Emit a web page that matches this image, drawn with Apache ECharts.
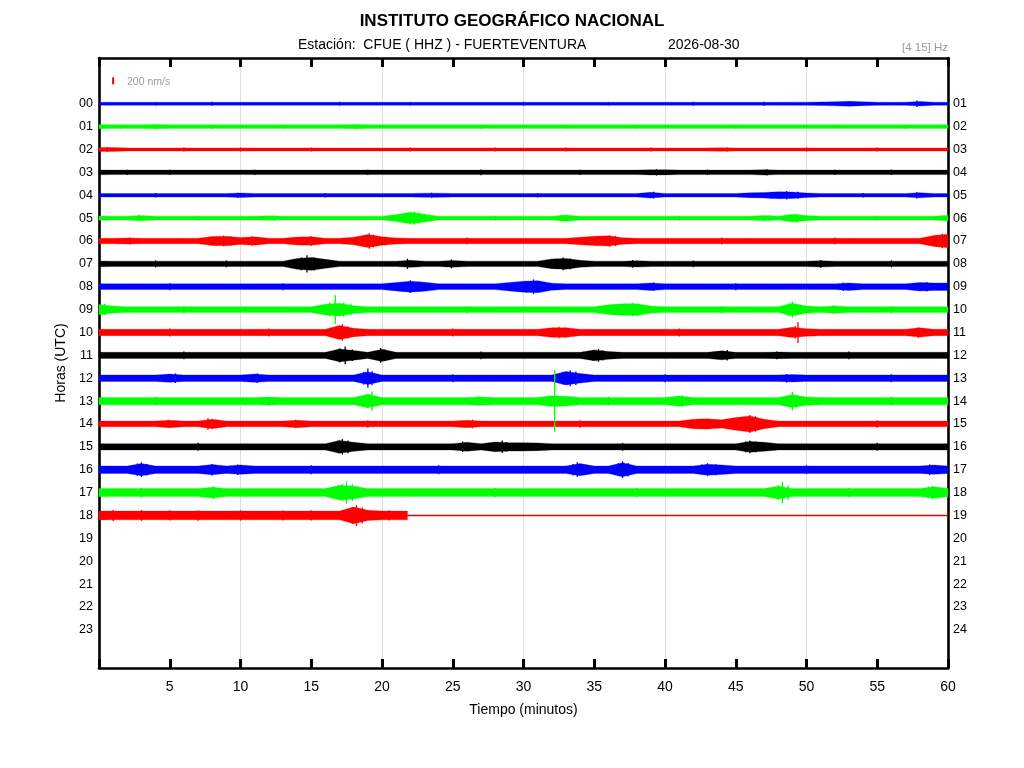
<!DOCTYPE html>
<html>
<head>
<meta charset="utf-8">
<script src="https://cdn.jsdelivr.net/npm/echarts@6/dist/echarts.min.js"></script>
<style>
html,body{margin:0;padding:0;background:#fff;}
#chart{width:1024px;height:768px;}
</style>
</head>
<body>
<div id="chart"></div>
<script>
// ---- Data (amplitude envelopes, nm/s, one value per minute 0..60) ----
const HOURS_LEFT = ['00','01','02','03','04','05','06','07','08','09','10','11','12','13','14','15','16','17','18','19','20','21','22','23'];
const HOURS_RIGHT = ['01','02','03','04','05','06','07','08','09','10','11','12','13','14','15','16','17','18','19','20','21','22','23','24'];
const X_TICKS = [5,10,15,20,25,30,35,40,45,50,55,60];

const r00 = [50,45,45,45,45,45,45,45,45,45, 45,45,45,45,45,45,45,45,45,45, 45,45,45,45,45,45,45,45,45,45, 45,45,45,45,45,45,45,45,45,45, 45,45,45,45,45,45,45,45,45,50, 50,55,65,75,60,50,45,50,70,50, 45];
const r01 = [65,55,55,55,65,55,55,55,55,55, 55,55,55,55,55,55,55,55,65,55, 55,55,55,55,55,55,55,55,55,55, 55,55,55,55,55,55,55,55,55,55, 55,55,55,55,55,55,55,55,55,55, 55,55,55,55,55,55,55,55,55,55, 60];
const r02 = [65,60,50,50,50,50,50,50,50,50, 50,50,50,50,50,50,50,50,50,50, 50,50,50,50,50,50,50,50,50,50, 50,50,50,50,50,50,50,50,50,50, 50,50,50,50,55,50,50,50,50,50, 50,50,50,50,50,50,50,50,50,50, 50];
const r03 = [75,70,70,70,70,70,70,70,70,70, 70,70,70,70,70,70,70,70,70,70, 70,70,70,70,70,70,70,70,70,70, 70,70,70,70,70,70,70,70,70,80, 80,70,70,70,70,70,70,85,70,70, 70,70,70,70,70,70,70,70,70,70, 70];
const r04 = [55,55,55,55,55,55,55,55,55,55, 70,55,55,55,55,55,55,55,55,55, 55,55,55,65,65,55,55,55,55,55, 55,55,55,55,55,55,55,55,55,90, 55,55,55,55,55,55,75,85,110,100, 70,55,55,55,55,55,55,55,80,55, 55];
const r05 = [65,60,60,80,60,60,60,60,60,60, 60,60,70,60,60,60,60,60,60,60, 60,110,180,120,60,60,60,60,60,60, 60,60,60,95,60,60,60,60,60,60, 60,60,60,60,60,60,60,85,60,120, 80,60,60,60,60,60,60,60,60,60, 90];
const r06 = [85,85,95,85,85,85,85,85,140,150, 110,130,85,85,125,130,85,85,120,200, 130,95,85,85,85,85,85,85,85,85, 85,85,85,85,120,145,160,100,85,85, 85,85,85,85,85,85,85,85,85,85, 85,85,85,85,85,85,85,85,85,170, 210];
const r07 = [90,85,85,85,85,85,85,85,85,85, 85,85,85,85,170,200,140,85,85,85, 85,85,110,85,85,105,85,85,85,85, 85,85,150,170,110,85,85,85,100,85, 85,85,85,85,85,85,85,85,85,85, 85,100,85,85,85,85,85,85,85,85, 85];
const r08 = [90,90,90,90,90,90,90,90,90,90, 90,90,90,90,90,90,90,90,90,90, 90,130,170,140,90,90,90,90,90,130, 170,190,110,90,90,90,90,90,90,115, 90,90,90,90,90,90,90,90,90,90, 90,90,90,115,90,90,90,90,130,115, 120];
const r09 = [160,110,90,90,90,90,90,90,90,90, 90,90,90,90,90,90,170,200,120,90, 90,90,90,90,90,90,90,90,90,90, 90,90,90,90,90,90,150,180,185,110, 90,90,90,90,90,90,90,90,90,200, 110,90,115,90,90,90,90,90,90,90, 90];
const r10 = [100,100,100,100,100,100,100,100,100,100, 100,100,100,100,100,100,100,220,130,100, 100,100,100,100,100,100,100,100,100,100, 100,100,150,150,100,100,100,100,100,100, 100,100,100,100,100,100,100,100,100,160, 120,100,100,100,100,100,100,100,145,100, 100];
const r11 = [95,95,95,95,95,95,95,95,95,95, 95,95,95,95,95,95,95,200,150,95, 190,95,95,95,95,95,95,95,95,95, 95,95,95,95,95,170,120,95,95,95, 95,95,95,95,140,95,95,95,105,95, 95,95,95,95,95,95,95,95,95,95, 95];
const r12 = [100,100,100,100,100,130,100,100,100,100, 100,130,100,100,100,100,100,100,100,200, 100,100,100,100,100,100,100,100,100,100, 100,100,100,210,150,100,100,100,100,100, 100,100,100,100,100,100,100,100,100,115, 100,100,100,100,100,100,100,100,100,100, 100];
const r13 = [115,115,115,115,115,115,115,115,115,115, 115,115,125,115,115,115,115,115,115,210, 115,115,115,115,115,115,115,130,115,115, 115,115,170,150,115,115,115,115,115,115, 115,160,115,115,115,115,115,115,115,200, 130,115,115,115,115,115,115,115,115,115, 115];
const r14 = [90,90,90,90,90,115,90,90,150,90, 90,90,90,90,115,90,90,90,90,90, 90,90,90,90,90,90,115,90,90,90, 90,90,90,90,90,90,90,90,90,90, 90,90,150,160,130,200,250,150,90,90, 90,90,90,90,90,90,90,90,90,90, 90];
const r15 = [100,100,100,100,100,100,100,100,100,100, 100,100,100,100,100,100,100,200,140,100, 100,100,100,100,100,100,140,100,150,130, 130,120,100,100,100,100,100,100,100,100, 100,100,100,100,100,100,170,140,100,100, 100,100,100,100,100,100,100,100,100,100, 100];
const r16 = [115,115,115,190,115,115,115,115,160,115, 145,115,115,115,115,115,115,115,115,115, 115,115,115,115,115,115,115,115,115,115, 115,115,115,115,190,115,115,220,115,115, 115,115,115,170,150,115,115,115,115,115, 115,115,115,115,115,115,115,115,115,145, 115];
const r17 = [130,125,125,125,125,125,125,125,170,125, 125,125,125,125,125,125,125,230,200,125, 125,125,125,125,125,125,125,125,125,125, 125,125,125,125,125,125,125,125,125,125, 125,125,125,125,125,125,125,125,200,125, 125,125,125,125,125,125,125,125,125,180, 130];
const r18 = [140,135,135,135,135,135,135,135,135,135, 135,135,135,135,135,135,135,135,260,160, 135,135];
const LIVE_END = 21.8;   // minute where the live trace of the last hour stops

const TRACES = [r00,r01,r02,r03,r04,r05,r06,r07,r08,r09,r10,r11,r12,r13,r14,r15,r16,r17,r18];

// sharp peaks per hour: [minute, amplitude nm/s]
const SPIKES = [
  [[53.1,75],[57.8,100],[8,60],[17,60],[30,60],[42,60],[4,55],[22,55],[36,55],[47,60]],
  [[4.1,75],[18.2,80],[13,70],[27,70],[38,70],[52,70],[1.5,70],[8,65],[33,65],[45,65],[57,65]],
  [[0.6,80],[44.4,65],[10,65],[22,65],[33,65],[50,65],[6,60],[15,62],[28,60],[39,62],[55,62]],
  [[39.4,100],[47.2,100],[5,85],[19,85],[27,90],[56,85],[2,85],[11,85],[34,85],[43,85],[52,85]],
  [[9.8,80],[23.5,80],[39.2,105],[48.6,135],[57.8,100],[47.5,100],[49.4,110],[4,70],[16,70],[31,70],[54,70]],
  [[2.8,95],[12.4,85],[22.3,210],[32.7,110],[47.4,100],[49.3,140],[21.5,130],[22.0,170],[22.6,180],[23.0,120],[7,75],[28,75],[41,75],[55,75]],
  [[8.8,165],[10.8,150],[15,150],[19.1,240],[20.2,135],[36.1,180],[59.6,230],[8.3,140],[9.3,150],[14.4,130],[18.8,190],[19.4,200],[35.2,150],[36.5,160],[59.2,180],[2.2,110],[26,105],[44,105],[52,105]],
  [[14.7,270],[21.8,160],[24.9,135],[32.8,200],[37.7,120],[51,120],[14.3,200],[15.2,210],[15.7,150],[32.3,160],[33.3,170],[4,110],[9,105],[42,105],[56,110]],
  [[22,200],[30.7,230],[39.2,135],[52.6,135],[58.5,150],[21.5,150],[22.6,160],[30.2,180],[31.2,170],[29.5,140],[5,110],[13,110],[45,110]],
  [[0.4,180],[16.7,450],[17.3,230],[37.7,210],[49,250],[51.9,135],[16.3,220],[17.8,180],[36.4,170],[37.2,190],[38.2,180],[48.7,200],[6,115],[26,115],[44,115],[56,115]],
  [[17.2,260],[32.5,180],[49.4,330],[57.9,165],[17.0,200],[17.6,190],[32.1,150],[33,150],[49.2,200],[58.1,140],[5,125],[12,125],[25,125],[41,125]],
  [[17.4,280],[19.9,230],[35.3,200],[44.4,165],[47.9,120],[17.0,220],[17.9,180],[20.2,180],[34.9,160],[35.6,160],[6,120],[27,120],[53,120]],
  [[5.4,150],[11.2,150],[19,300],[33.3,250],[48.6,135],[18.7,200],[19.3,220],[32.8,200],[33.7,210],[25,125],[40,125],[56,125]],
  [[19.3,300],[26.8,150],[32.2,960],[41.2,180],[49,290],[12,135],[19.0,220],[32.5,170],[31.9,150],[49.3,200],[48.7,180],[40.9,150],[4,140],[36,140],[56,140]],
  [[4.9,130],[7.7,180],[13.9,130],[26.4,135],[46,280],[42.3,150],[43,150],[45.5,220],[46.4,240],[19,115],[34,115],[55,115]],
  [[17.2,240],[25.7,165],[28.5,195],[46,200],[16.9,200],[17.6,200],[28.8,150],[45.7,170],[46.4,170],[7,125],[37,125],[55,125]],
  [[3,230],[8,180],[9.8,165],[33.8,230],[37,260],[43,200],[58.7,165],[2.7,190],[3.4,180],[36.7,200],[37.4,210],[33.5,180],[42.6,160],[43.6,170],[15,140],[24,140],[50,140]],
  [[8.1,200],[17.5,350],[48.3,330],[58.9,210],[17.2,270],[17.9,260],[48.0,230],[48.7,230],[58.6,180],[59.2,170],[3,150],[28,150],[38,150],[53,150]],
  [[18.2,330],[5,160],[13,155],[17.9,260],[18.6,250],[1,180],[3,170],[7,165],[10,160],[15,160],[20.5,160]]
];
const SCALE_NM = 200;          // scale bar value
const SCALE_POS = [1, -1];     // minute, hour row

// ---- Styling ----
const ROW_COLORS = ['#0000ff','#00ff00','#ff0000','#000000'];
const PX_PER_NM = 0.032;       // display gain
const FONT = 'Liberation Sans, Arial, sans-serif';

const traceData = TRACES.map((a, r) => [0, r]);
const spikeData = [];
SPIKES.forEach((list, r) => list.forEach(s => spikeData.push([s[0], r, s[1]])));
const LAST_ROW = TRACES.length - 1;

function renderTrace(params, api) {
  const row = api.value(1);
  const amps = TRACES[row];
  const color = ROW_COLORS[row % 4];
  const top = [], bot = [];
  for (let i = 0; i < amps.length; i++) {
    const c = api.coord([i, row]);
    top.push([c[0], c[1] - amps[i] * PX_PER_NM]);
    bot.push([c[0], c[1] + amps[i] * PX_PER_NM]);
  }
  if (row === LAST_ROW) {
    const c = api.coord([LIVE_END, row]);
    const a = amps[amps.length - 1];
    top.push([c[0], c[1] - a * PX_PER_NM]);
    bot.push([c[0], c[1] + a * PX_PER_NM]);
  }
  return {
    type: 'polygon',
    shape: { points: top.concat(bot.reverse()) },
    style: { fill: color, stroke: color, lineWidth: 0.3 }
  };
}
function renderSpike(params, api) {
  const t = api.value(0), row = api.value(1), a = api.value(2);
  const c = api.coord([t, row]);
  const color = ROW_COLORS[row % 4];
  return {
    type: 'line',
    shape: { x1: c[0], y1: c[1] - a * PX_PER_NM, x2: c[0], y2: c[1] + a * PX_PER_NM },
    style: { stroke: color, lineWidth: 1.3 }
  };
}
function renderTail(params, api) {
  const c1 = api.coord([LIVE_END, LAST_ROW]);
  const c2 = api.coord([60, LAST_ROW]);
  const y = Math.round(c1[1]) + 0.5;
  return { type: 'line', shape: { x1: c1[0], y1: y, x2: c2[0], y2: y },
           style: { stroke: '#ee0000', lineWidth: 1.3 } };
}
function renderScale(params, api) {
  const c = api.coord(SCALE_POS);
  const h = 7 / 2;
  return { type: 'line', shape: { x1: c[0], y1: c[1] - h, x2: c[0], y2: c[1] + h },
           style: { stroke: '#e00000', lineWidth: 2 } };
}

const chart = echarts.init(document.getElementById('chart'), null, { renderer: 'canvas' });
const axisLineStyle = { color: '#000', width: 2.6 };
chart.setOption({
  animation: false,
  backgroundColor: '#fff',
  textStyle: { fontFamily: FONT },
  title: {
    text: 'INSTITUTO GEOGRÁFICO NACIONAL',
    left: 'center', top: 8,
    textStyle: { fontFamily: FONT, fontSize: 17, fontWeight: 'bold', color: '#000' }
  },
  graphic: [
    { type: 'text', left: 298, top: 38, style: { text: 'Estación:  CFUE ( HHZ ) - FUERTEVENTURA', font: '14px ' + FONT, fill: '#000' } },
    { type: 'text', left: 668, top: 38, style: { text: '2026-08-30', font: '14px ' + FONT, fill: '#000' } },
    { type: 'text', right: 76, top: 42, style: { text: '[4 15] Hz', font: '11.5px ' + FONT, fill: '#9a9a9a' } },
    { type: 'text', left: 127, top: 77, style: { text: '200 nm/s', font: '10.5px ' + FONT, fill: '#9a9a9a' } }
  ],
  grid: { left: 99, right: 76, top: 58, bottom: 100 },
  xAxis: [
    {
      type: 'value', min: 0, max: 60, interval: 5, position: 'bottom',
      name: 'Tiempo (minutos)', nameLocation: 'middle', nameGap: 35,
      nameTextStyle: { fontSize: 14, color: '#000', fontFamily: FONT },
      axisLine: { show: true, onZero: false, lineStyle: axisLineStyle },
      axisTick: { show: true, inside: true, length: 9, lineStyle: { color: '#000', width: 3 } },
      axisLabel: { fontSize: 14, color: '#000', margin: 12, fontFamily: FONT,
                   formatter: v => (X_TICKS.indexOf(v) >= 0 ? String(v) : '') },
      splitLine: { show: false }
    },
    {
      type: 'value', min: 0, max: 60, interval: 5, position: 'top',
      axisLine: { show: true, onZero: false, lineStyle: axisLineStyle },
      axisTick: { show: true, inside: true, length: 9, lineStyle: { color: '#000', width: 3 } },
      axisLabel: { show: false }, splitLine: { show: false }
    },
    {
      type: 'value', min: 0, max: 60, interval: 10, position: 'bottom', show: true,
      axisLine: { show: false, onZero: false }, axisTick: { show: false }, axisLabel: { show: false },
      splitLine: { show: true, lineStyle: { color: '#dedede', width: 1 } }, z: 0
    }
  ],
  yAxis: [
    {
      type: 'value', min: -2, max: 24.67, interval: 1, inverse: true, position: 'left',
      name: 'Horas (UTC)', nameLocation: 'middle', nameGap: 27, nameRotate: 90,
      nameTextStyle: { fontSize: 14, color: '#000', fontFamily: FONT },
      axisLine: { show: true, onZero: false, lineStyle: axisLineStyle },
      axisTick: { show: false },
      axisLabel: { fontSize: 12.5, color: '#000', margin: 6, fontFamily: FONT,
                   formatter: v => (Number.isInteger(v) && v >= 0 && v < HOURS_LEFT.length) ? HOURS_LEFT[v] : '' },
      splitLine: { show: false }
    },
    {
      type: 'value', min: -2, max: 24.67, interval: 1, inverse: true, position: 'right',
      axisLine: { show: true, onZero: false, lineStyle: axisLineStyle },
      axisTick: { show: false },
      axisLabel: { fontSize: 12.5, color: '#000', margin: 5, fontFamily: FONT,
                   formatter: v => (Number.isInteger(v) && v >= 0 && v < HOURS_RIGHT.length) ? HOURS_RIGHT[v] : '' },
      splitLine: { show: false }
    }
  ],
  series: [
    { type: 'custom', name: 'traces', xAxisIndex: 0, yAxisIndex: 0, renderItem: renderTrace, data: traceData, clip: false, z: 3 },
    { type: 'custom', name: 'tail', xAxisIndex: 0, yAxisIndex: 0, renderItem: renderTail, data: [[LIVE_END, LAST_ROW]], z: 3 },
    { type: 'custom', name: 'spikes', xAxisIndex: 0, yAxisIndex: 0, renderItem: renderSpike, data: spikeData, clip: false, z: 4 },
    { type: 'custom', name: 'scale', xAxisIndex: 0, yAxisIndex: 0, renderItem: renderScale, data: [SCALE_POS], z: 4 }
  ]
});
</script>
</body>
</html>
